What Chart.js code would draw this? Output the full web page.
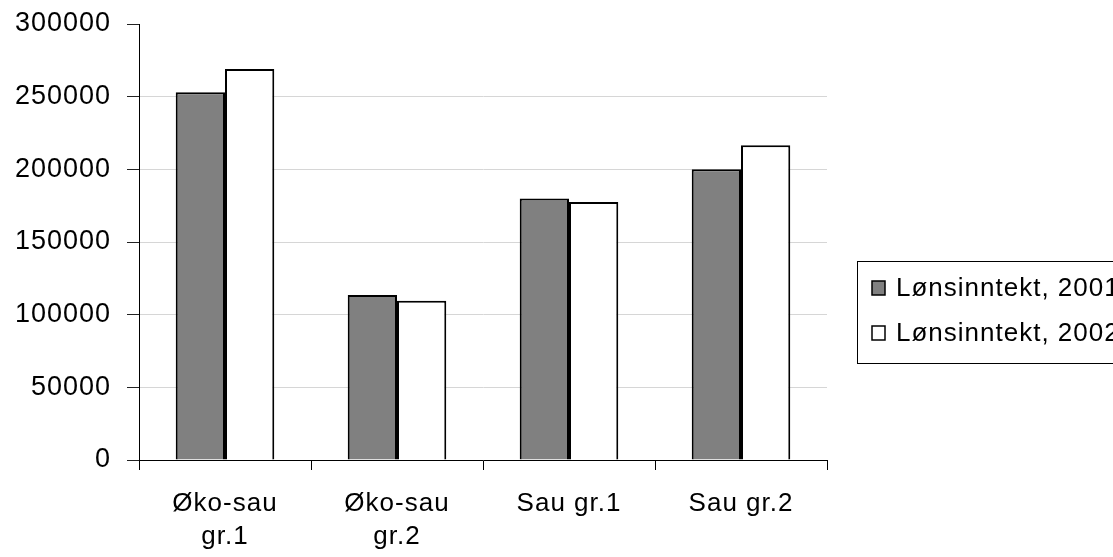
<!DOCTYPE html>
<html>
<head>
<meta charset="utf-8">
<script src="https://cdn.jsdelivr.net/npm/chart.js@4"></script>
<style>
  html, body { margin: 0; padding: 0; background: #fff; }
</style>
</head>
<body>
<canvas id="grafLonn" width="1113" height="557"></canvas>
<script>
// kategorier og verdier lest av bildet
let kategorier = [["Øko-sau", "gr.1"], ["Øko-sau", "gr.2"], "Sau gr.1", "Sau gr.2"];
let lonn2001 = [253000, 113500, 180000, 200000];
let lonn2002 = [269000, 109500, 177500, 216500];
let serienavn = ["Lønsinntekt, 2001", "Lønsinntekt, 2002"];
let yTicks = [0, 50000, 100000, 150000, 200000, 250000, 300000];

let skrift = "Arial, 'Liberation Sans', sans-serif";

// litt bokstavavstand slik som i originalen
let sperring = {
    id: "sperring",
    beforeLayout(chart) { chart.ctx.letterSpacing = "1px"; },
    beforeDraw(chart) { chart.ctx.letterSpacing = "1px"; }
};

// forklaring med ramme, tegnet til hoyre for plottet
let forklaring = {
    id: "forklaring",
    afterDraw(chart) {
        let c = chart.ctx;
        c.save();
        c.letterSpacing = "1px";
        c.strokeStyle = "#000";
        c.lineWidth = 1;
        c.strokeRect(857.5, 261.5, 300, 102);
        c.font = "26px " + skrift;
        c.textBaseline = "middle";
        c.textAlign = "left";
        chart.data.datasets.forEach((ds, i) => {
            let y = 288 + i * 45;
            c.fillStyle = ds.backgroundColor;
            c.fillRect(872, y - 7, 13, 14);
            c.strokeStyle = "#000";
            c.lineWidth = 1.5;
            c.strokeRect(872, y - 7, 13, 14);
            c.fillStyle = "#000";
            c.fillText(ds.label, 896, y + 1);
        });
        c.restore();
    }
};

let ctx = document.getElementById("grafLonn").getContext("2d");

let grafLonn = new Chart(ctx, {
    type: "bar",
    data: {
        labels: kategorier,
        datasets: [{
            label: serienavn[0],
            data: lonn2001,
            backgroundColor: "#808080",
            borderColor: "#000",
            borderWidth: 2
        }, {
            label: serienavn[1],
            data: lonn2002,
            backgroundColor: "#ffffff",
            borderColor: "#000",
            borderWidth: 2
        }]
    },
    options: {
        responsive: false,
        animation: false,
        devicePixelRatio: 1,
        categoryPercentage: 0.573,
        barPercentage: 1,
        layout: { autoPadding: false, padding: { left: 0, top: 24, right: 286, bottom: 0 } },
        plugins: {
            legend: { display: false },
            tooltip: { enabled: false }
        },
        scales: {
            x: {
                afterFit(s) { s.height = 97; s.paddingLeft = 0; s.paddingRight = 0; },
                grid: {
                    offset: true,
                    drawOnChartArea: false,
                    tickLength: 10,
                    tickColor: "#000"
                },
                border: { color: "#000", width: 1 },
                ticks: {
                    color: "#000",
                    padding: 18,
                    maxRotation: 0,
                    font: { family: skrift, size: 26, lineHeight: 1.25 }
                }
            },
            y: {
                min: 0,
                max: 300000,
                afterFit(s) { s.width = 139; s.paddingTop = 0; s.paddingBottom = 0; },
                afterBuildTicks(s) { s.ticks = yTicks.map(v => ({ value: v })); },
                grid: {
                    color: c => c.tick && c.tick.value === 300000 ? "rgba(0,0,0,0)" : "#d6d6d6",
                    tickColor: "#222",
                    tickLength: 12,
                    lineWidth: 1
                },
                border: { color: "#000", width: 1 },
                ticks: {
                    color: "#000",
                    padding: 16,
                    font: { family: skrift, size: 27 },
                    callback: v => String(v)
                }
            }
        }
    },
    plugins: [sperring, forklaring]
});
</script>
</body>
</html>
